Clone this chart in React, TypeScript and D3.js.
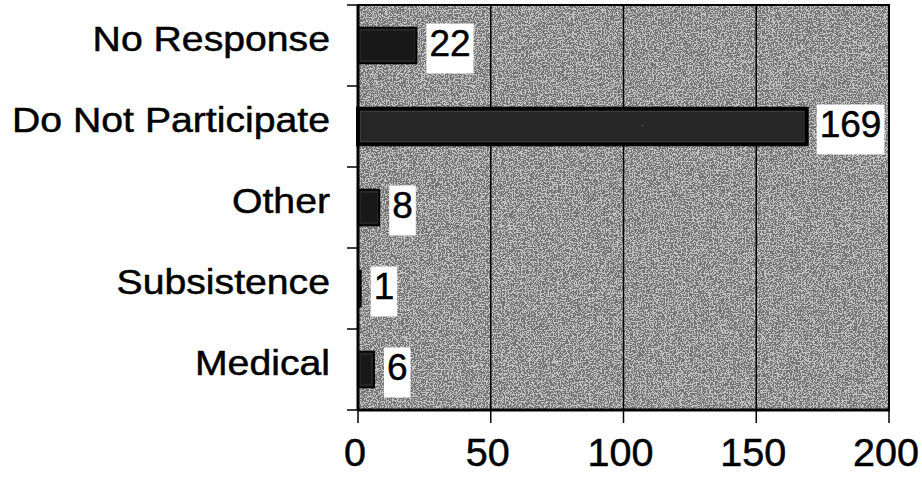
import React from "react";
import * as d3 from "d3";

const categories = ["No Response", "Do Not Participate", "Other", "Subsistence", "Medical"];
const values = [22, 169, 8, 1, 6];
const xTicks = [0, 50, 100, 150, 200];

const W = 922;
const H = 480;
const plot = { left: 358, right: 889, top: 5, bottom: 410 };

export default function App() {
  const x = d3.scaleLinear().domain([0, 200]).range([plot.left, plot.right]);
  const y = d3.scaleBand<string>().domain(categories).range([plot.top, plot.bottom]).padding(0);
  const bw = y.bandwidth();
  const barH = bw * 0.44;
  const boundaries = [...categories.map((c) => y(c) as number), plot.bottom];
  const font = "'Liberation Sans', Arial, Helvetica, sans-serif";

  return (
    <svg
      width={W}
      height={H}
      viewBox={`0 0 ${W} ${H}`}
      style={{ position: "absolute", left: 0, top: 0, background: "#fff" }}
    >
      <defs>
        <filter id="speckle" x="0" y="0" width="100%" height="100%" filterUnits="objectBoundingBox">
          <feTurbulence type="fractalNoise" baseFrequency="0.75" numOctaves="3" seed="7" result="t" />
          <feColorMatrix
            in="t"
            type="matrix"
            values="0.33 0.33 0.33 0 0  0.33 0.33 0.33 0 0  0.33 0.33 0.33 0 0  0 0 0 0 1"
            result="g"
          />
          <feComponentTransfer in="g">
            <feFuncR type="discrete" tableValues="0 0 1 1" />
            <feFuncG type="discrete" tableValues="0 0 1 1" />
            <feFuncB type="discrete" tableValues="0 0 1 1" />
          </feComponentTransfer>
        </filter>
        <filter id="speckle2" x="0" y="0" width="100%" height="100%" filterUnits="objectBoundingBox">
          <feTurbulence type="fractalNoise" baseFrequency="0.9" numOctaves="2" seed="3" result="t" />
          <feColorMatrix
            in="t"
            type="matrix"
            values="0.33 0.33 0.33 0 0  0.33 0.33 0.33 0 0  0.33 0.33 0.33 0 0  0 0 0 0 1"
            result="g"
          />
          <feComponentTransfer in="g">
            <feFuncR type="discrete" tableValues="0 0 0 1" />
            <feFuncG type="discrete" tableValues="0 0 0 1" />
            <feFuncB type="discrete" tableValues="0 0 0 1" />
          </feComponentTransfer>
        </filter>
      </defs>

      {/* plot background */}
      <rect
        x={plot.left}
        y={plot.top}
        width={plot.right - plot.left}
        height={plot.bottom - plot.top}
        fill="#a8a8a8"
      />
      <rect
        x={plot.left}
        y={plot.top}
        width={plot.right - plot.left}
        height={plot.bottom - plot.top}
        fill="#888"
        filter="url(#speckle)"
        opacity={0.3}
      />

      {/* vertical gridlines */}
      {xTicks.slice(1, -1).map((t) => (
        <line key={t} x1={x(t)} x2={x(t)} y1={plot.top} y2={plot.bottom} stroke="#000" strokeWidth={1.5} />
      ))}

      {/* bars */}
      {categories.map((c, i) => {
        const cy = (y(c) as number) + bw / 2;
        const big = values[i] > 100;
        return (
          <g key={c}>
            <rect
              x={x(0)}
              y={cy - barH / 2}
              width={x(values[i]) - x(0)}
              height={barH}
              fill={big ? "#3c3c3c" : "#262626"}
              stroke="#000"
              strokeWidth={big ? 4 : 2}
            />
            <rect
              x={x(0) + 3}
              y={cy - barH / 2 + 4}
              width={Math.max(0, x(values[i]) - x(0) - 6)}
              height={barH - 8}
              fill="#555"
              filter="url(#speckle2)"
              opacity={0.35}
            />
          </g>
        );
      })}

      {/* data labels */}
      {categories.map((c, i) => {
        const cy = (y(c) as number) + bw / 2;
        const label = String(values[i]);
        const tw = label.length * 0.556 * 37;
        const bx = x(values[i]) + 10;
        return (
          <g key={"lab" + c}>
            <rect x={bx} y={cy - 22} width={tw + 6} height={50} fill="#fff" />
            <text
              x={bx + 3}
              y={cy + 10}
              fontFamily={font}
              fontSize={37}
              fill="#000"
              stroke="#000"
              strokeWidth={0.5}
            >
              {label}
            </text>
          </g>
        );
      })}

      {/* plot border */}
      <rect
        x={plot.left}
        y={plot.top}
        width={plot.right - plot.left}
        height={plot.bottom - plot.top}
        fill="none"
        stroke="#000"
        strokeWidth={2}
      />
      {/* axes */}
      <line x1={plot.left} x2={plot.left} y1={plot.top} y2={plot.bottom} stroke="#000" strokeWidth={3} />
      <line x1={plot.left - 1} x2={plot.right + 1} y1={plot.bottom} y2={plot.bottom} stroke="#000" strokeWidth={3} />

      {/* y ticks */}
      {boundaries.map((b, i) => (
        <line key={"yt" + i} x1={plot.left - 11} x2={plot.left} y1={b} y2={b} stroke="#000" strokeWidth={1.5} />
      ))}
      {/* x ticks */}
      {xTicks.map((t) => (
        <line key={"xt" + t} x1={x(t)} x2={x(t)} y1={plot.bottom} y2={plot.bottom + 13} stroke="#000" strokeWidth={1.5} />
      ))}

      {/* category labels */}
      {categories.map((c) => {
        const cy = (y(c) as number) + bw / 2;
        return (
          <text
            key={"cat" + c}
            transform={`translate(330, ${cy + 5}) scale(1.12, 1)`}
            textAnchor="end"
            fontFamily={font}
            fontSize={35}
            fill="#000"
            stroke="#000"
            strokeWidth={0.5}
          >
            {c}
          </text>
        );
      })}

      {/* x tick labels */}
      {xTicks.map((t) => (
        <text
          key={"xl" + t}
          transform={`translate(${x(t) - 3}, 466) scale(1.04, 1)`}
          textAnchor="middle"
          fontFamily={font}
          fontSize={38}
          fill="#000"
          stroke="#000"
          strokeWidth={0.5}
        >
          {t}
        </text>
      ))}
    </svg>
  );
}
